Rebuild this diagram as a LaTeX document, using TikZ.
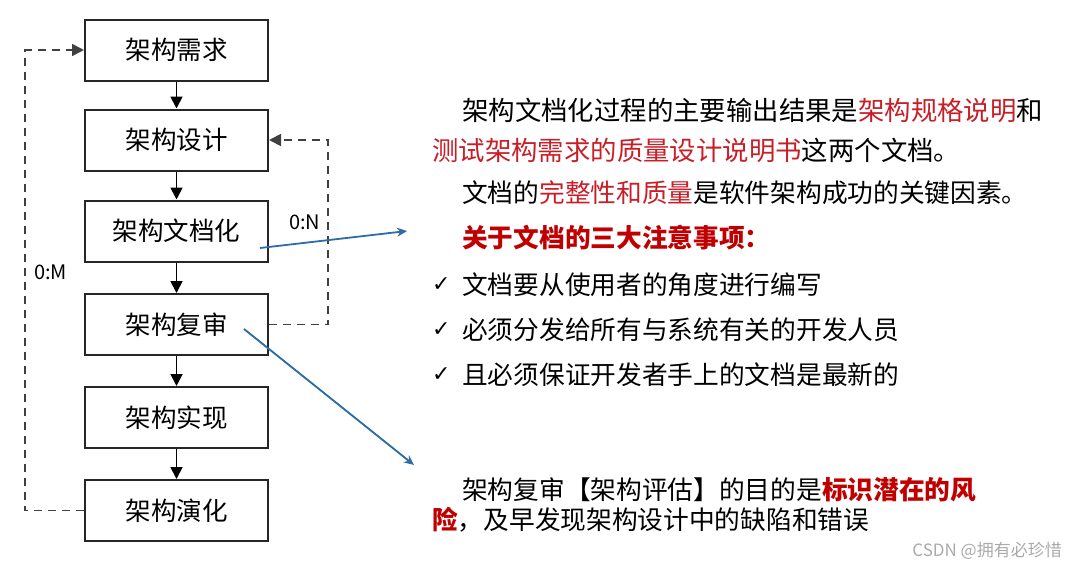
\documentclass[tikz,border=0pt]{standalone}
\usepackage{fontspec}
\setmainfont{Noto Sans CJK SC}
\newfontfamily\symf{DejaVu Sans}
\usetikzlibrary{arrows.meta,calc}
\definecolor{myred}{RGB}{200,30,40}
\definecolor{boldred}{RGB}{192,0,0}
\definecolor{myblue}{RGB}{46,109,164}
\definecolor{wm}{RGB}{170,170,170}
\tikzset{
  stage/.style={draw=black!85,line width=2pt,minimum width=183pt,minimum height=61pt,inner sep=0pt,font=\fontsize{25.5}{28}\selectfont},
  flow/.style={line width=1.8pt,-{Triangle[length=12pt,width=12pt]}},
  loop/.style={line width=1.8pt,draw=black!75,dash pattern=on 8pt off 6pt},
  looparrow/.style={loop,-{Triangle[length=12pt,width=12pt]}},
  lbl/.style={inner sep=0pt,font=\fontsize{20}{22}\selectfont},
  txt/.style={anchor=west,inner sep=0pt,font=\fontsize{26.4}{30}\selectfont},
  txts/.style={anchor=west,inner sep=0pt,font=\fontsize{25.7}{30}\selectfont},
  chk/.style={anchor=west,inner sep=0pt,font=\symf\fontsize{22}{24}\selectfont},
  blue/.style={draw=myblue,line width=1.8pt,-{Stealth[length=10pt,width=9pt]}},
}
\begin{document}
\begin{tikzpicture}[x=1pt,y=-1pt]
\useasboundingbox (0,0) rectangle (1075,570);
% stages
\node[stage] (b1) at (176.5,50) {架构需求};
\node[stage] (b2) at (176.5,140) {架构设计};
\node[stage] (b3) at (176.5,231) {架构文档化};
\node[stage] (b4) at (176.5,324.5) {架构复审};
\node[stage] (b5) at (176.5,417.5) {架构实现};
\node[stage] (b6) at (176.5,510.5) {架构演化};
\foreach \a/\b in {b1/b2,b2/b3,b3/b4,b4/b5,b5/b6}
  \draw[flow] (\a.south) -- (\b.north);
% feedback loops
\coordinate (L) at (25,0);
\coordinate (R) at (328,0);
\draw[looparrow] (b6.west) -- (b6.west -| L) |- (b1.west);
\draw[looparrow] (b4.east) -- (b4.east -| R) |- (b2.east);
\node[lbl,anchor=west] (n) at (289,222) {0:N};
\node[lbl,anchor=west] (m) at (34,272) {0:M};
% right text
\node[txt] (t1) at (462,110) {架构文档化过程的主要输出结果是\textcolor{myred}{架构规格说明}和};
\node[txt] (t2) at (432,150) {\textcolor{myred}{测试架构需求的质量设计说明书}这两个文档。};
\node[txts] (t3) at (462,193) {文档的\textcolor{myred}{完整性和质量}是软件架构成功的关键因素。};
\node[txts] (t4) at (462,238) {\textcolor{boldred}{\bfseries 关于文档的三大注意事项：}};
\node[chk] (c1) at (432,285) {✓};
\node[txts] (t5) at (462,285) {文档要从使用者的角度进行编写};
\node[chk] (c2) at (432,330) {✓};
\node[txts] (t6) at (462,330) {必须分发给所有与系统有关的开发人员};
\node[chk] (c3) at (432,375) {✓};
\node[txts] (t7) at (462,375) {且必须保证开发者手上的文档是最新的};
\node[txts] (t8) at (462,490) {架构复审【架构评估】的目的是\textcolor{boldred}{\bfseries 标识潜在的风}};
\node[txts] (t9) at (432,520) {\textcolor{boldred}{\bfseries 险}，及早发现架构设计中的缺陷和错误};
% blue arrows
\coordinate (s1) at (260,248);
\coordinate (e1) at (407,231);
\coordinate (s2) at (244,329);
\coordinate (e2) at (414,465);
\draw[blue] (s1) -- (e1);
\draw[blue] (s2) -- (e2);
% watermark
\node[anchor=east,inner sep=0pt,text=wm,font=\fontsize{17}{18}\selectfont] (w) at (1062,551) {CSDN @拥有必珍惜};
\end{tikzpicture}
\end{document}
